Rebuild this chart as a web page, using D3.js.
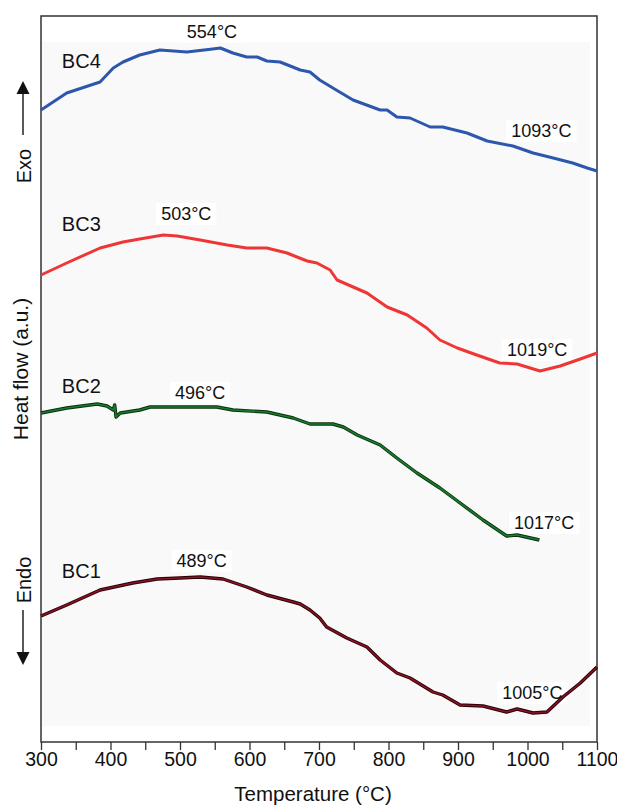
<!DOCTYPE html>
<html>
<head>
<meta charset="utf-8">
<script src="https://cdn.jsdelivr.net/npm/d3@7"></script>
<style>
  body { margin: 0; background: #fff; }
  svg text { font-family: "Liberation Sans", Arial, sans-serif; fill: #111; }
</style>
</head>
<body>
<svg id="chart" width="617" height="807"></svg>
<script>
// DTA curves, heat flow in arbitrary units vs temperature (°C)
const bc4T = [300, 337, 385, 404, 418, 442, 471, 510, 547, 558, 576, 596, 611, 625, 644, 673, 687, 701, 720, 749, 788, 798, 812, 831, 860, 878, 913, 942, 979, 1008, 1037, 1065, 1086, 1100];
const bc4V = [632, 649, 660, 674, 680, 687, 692, 690, 693, 694, 689, 685, 685, 681, 680, 672, 670, 662, 654, 642, 632, 632, 625, 624, 615, 615, 609, 601, 596, 589, 584, 579, 574, 571];

const bc3T = [300, 337, 385, 418, 442, 476, 496, 529, 568, 596, 625, 654, 683, 697, 716, 726, 769, 798, 827, 855, 874, 899, 927, 960, 985, 1018, 1047, 1076, 1100];
const bc3V = [467, 479, 494, 500, 503, 507, 506, 502, 497, 494, 494, 489, 481, 479, 472, 462, 449, 435, 427, 414, 402, 394, 387, 379, 378, 371, 376, 383, 389];

const bc2T = [300, 337, 381, 395, 404, 406, 408, 414, 442, 457, 504, 553, 576, 625, 663, 687, 720, 735, 755, 788, 812, 841, 874, 903, 936, 970, 985, 1017];
const bc2V = [329, 334, 338, 336, 332, 337, 325, 329, 332, 335, 335, 335, 332, 330, 324, 318, 318, 315, 307, 297, 284, 269, 254, 239, 222, 206, 207, 202];

const bc1T = [300, 337, 385, 432, 467, 500, 529, 562, 596, 625, 663, 673, 687, 701, 711, 740, 769, 788, 812, 831, 864, 878, 903, 936, 970, 985, 1008, 1028, 1051, 1076, 1100];
const bc1V = [126, 137, 152, 159, 163, 164, 165, 163, 155, 147, 140, 138, 132, 124, 115, 104, 95, 82, 69, 64, 50, 47, 37, 36, 30, 33, 29, 30, 45, 59, 75];

const seriesNames = ["BC4", "BC3", "BC2", "BC1"];
const peakLabels = ["554°C", "503°C", "496°C", "489°C"];
const endLabels = ["1093°C", "1019°C", "1017°C", "1005°C"];
const xTicks = [300, 400, 500, 600, 700, 800, 900, 1000, 1100];

// where the annotations sit, in data units
const nameAt = [[330, 674], [330, 511], [330, 349], [330, 164]];
const peakAt = [[546, 704], [509, 522], [529, 343], [531, 175]];
const endAt = [[1020, 605], [1014, 386], [1024, 213], [1007, 43]];

const colors = ["#2c57ad", "#ee3636", "#1c7a2c", "#861424"];
const edge = [null, null, "#06300c", "#2a0006"];

const svg = d3.select("#chart");
const mLeft = 41, mRight = 597, mTop = 16, mBottom = 742;

const x = d3.scaleLinear().domain([300, 1100]).range([mLeft, mRight]);
const y = d3.scaleLinear().domain([0, 726]).range([mBottom, mTop]);

// plot background
svg.append("rect")
  .attr("x", mLeft).attr("y", 42)
  .attr("width", 590 - mLeft).attr("height", 726 - 42)
  .attr("fill", "#f9f9f9");

// frame
svg.append("rect")
  .attr("x", mLeft).attr("y", mTop)
  .attr("width", mRight - mLeft).attr("height", mBottom - mTop)
  .attr("fill", "none").attr("stroke", "#333").attr("stroke-width", 1.5);

// x axis
const xAxis = svg.append("g")
  .attr("transform", "translate(0," + mBottom + ")")
  .call(d3.axisBottom(x)
    .tickValues(d3.range(300, 1101, 50))
    .tickSize(8).tickPadding(2)
    .tickFormat(d => xTicks.includes(d) ? d : ""));
xAxis.select(".domain").remove();
xAxis.selectAll(".tick line").attr("stroke", "#333").attr("stroke-width", 1.3);
xAxis.selectAll(".tick text")
  .style("font-family", "'Liberation Sans', Arial, sans-serif")
  .style("font-size", "19.5px").attr("fill", "#111");

svg.append("text")
  .attr("x", 313).attr("y", 801)
  .attr("text-anchor", "middle")
  .style("font-size", "20.5px")
  .text("Temperature (°C)");

// y labels
svg.append("text")
  .attr("transform", "translate(28,369) rotate(-90)")
  .attr("text-anchor", "middle")
  .style("font-size", "21px")
  .text("Heat flow (a.u.)");
svg.append("text")
  .attr("transform", "translate(31,166) rotate(-90)")
  .attr("text-anchor", "middle")
  .style("font-size", "20px")
  .text("Exo");
svg.append("text")
  .attr("transform", "translate(31,580) rotate(-90)")
  .attr("text-anchor", "middle")
  .style("font-size", "20px")
  .text("Endo");

// arrows
svg.append("line").attr("x1", 23).attr("x2", 23).attr("y1", 135).attr("y2", 92)
  .attr("stroke", "#222").attr("stroke-width", 1.5);
svg.append("path").attr("d", "M23,81 L16.5,94 L29.5,94 Z").attr("fill", "#111");
svg.append("line").attr("x1", 23).attr("x2", 23).attr("y1", 610).attr("y2", 654)
  .attr("stroke", "#222").attr("stroke-width", 1.5);
svg.append("path").attr("d", "M23,665 L16.5,652 L29.5,652 Z").attr("fill", "#111");

// annotations (under the curves, as in the original)
const labelLayer = svg.append("g");
function valueLabel(txt, at) {
  const g = labelLayer.append("g");
  const t = g.append("text")
    .attr("x", x(at[0])).attr("y", y(at[1]))
    .attr("text-anchor", "middle")
    .style("font-size", "18px")
    .text(txt);
  const b = t.node().getBBox();
  g.insert("rect", "text")
    .attr("x", b.x - 5).attr("y", b.y - 1)
    .attr("width", b.width + 10).attr("height", b.height + 2)
    .attr("fill", "#fff");
}

seriesNames.forEach((n, i) => {
  labelLayer.append("text")
    .attr("x", x(nameAt[i][0])).attr("y", y(nameAt[i][1]))
    .style("font-size", "20px")
    .text(n);
  valueLabel(peakLabels[i], peakAt[i]);
  valueLabel(endLabels[i], endAt[i]);
});

// curves
const series = [[bc4T, bc4V], [bc3T, bc3V], [bc2T, bc2V], [bc1T, bc1V]];
const line = d3.line().x(d => x(d[0])).y(d => y(d[1]));

series.forEach((s, i) => {
  const pts = d3.zip(s[0], s[1]);
  if (edge[i]) {
    svg.append("path").datum(pts)
      .attr("d", line).attr("fill", "none")
      .attr("stroke", edge[i]).attr("stroke-width", 3.4)
      .attr("stroke-linejoin", "round");
    svg.append("path").datum(pts)
      .attr("d", line).attr("fill", "none")
      .attr("stroke", colors[i]).attr("stroke-width", 1.6)
      .attr("stroke-linejoin", "round");
  } else {
    svg.append("path").datum(pts)
      .attr("d", line).attr("fill", "none")
      .attr("stroke", colors[i]).attr("stroke-width", 3)
      .attr("stroke-linejoin", "round");
  }
});
</script>
</body>
</html>
